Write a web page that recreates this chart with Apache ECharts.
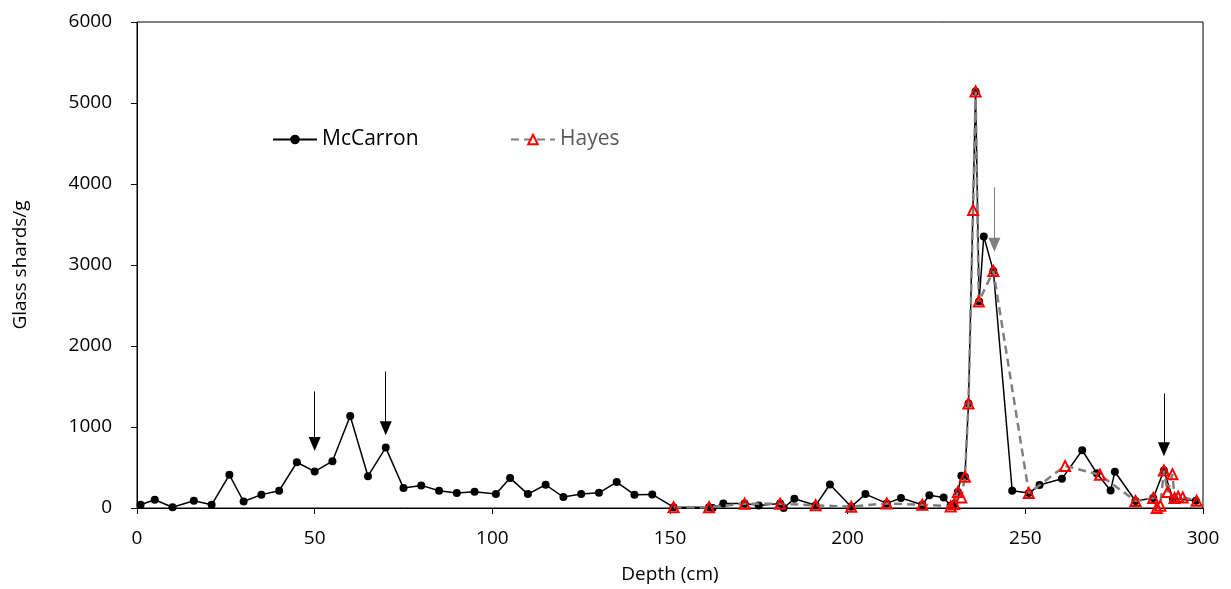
<!DOCTYPE html>
<html>
<head>
<meta charset="utf-8">
<title>Glass shards by depth</title>
<script src="https://cdn.jsdelivr.net/npm/echarts@6/dist/echarts.min.js"></script>
<style>
  html, body { margin: 0; padding: 0; background: #fff; }
  #chart { width: 1231px; height: 589px; }
</style>
</head>
<body>
<div id="chart"></div>
<script>
// McCarron core: depth (cm) and glass shard concentration (shards/g)
const mcDepth = [1, 5, 10, 16, 21, 26, 30, 35, 40, 45, 50, 55, 60, 65, 70, 75, 80, 85, 90, 95,
  101, 105, 110, 115, 120, 125, 130, 135, 140, 145, 151, 161, 162, 165, 171, 175, 181, 182, 185, 191,
  195, 201, 205, 211, 215, 221, 223, 227, 229, 230, 231, 232, 233, 234, 236, 237, 238.3, 241, 246.3, 251,
  254, 260.3, 266, 270.1, 274, 275.2, 281, 286, 289, 291.5, 298];
const mcShards = [40, 102, 10, 90, 40, 410, 80, 165, 213, 565, 450, 578, 1135, 393, 746, 246, 279, 213, 184, 200,
  172, 369, 172, 287, 135, 172, 188, 320, 164, 168, 10, 10, 0, 57, 57, 30, 57, 0, 115, 33,
  290, 16, 172, 57, 123, 41, 158, 131, 29, 49, 197, 397, 385, 1291, 5143, 2549, 3353, 2926, 213, 184,
  283, 360, 713, 430, 217, 447, 86, 123, 463, 118, 90];

// Hayes core
const hayesDepth = [151, 161, 171, 181, 191, 201, 211, 221, 229, 230, 231, 232, 233, 234, 235.3, 236, 236.9,
  241, 251, 261.2, 271, 281, 286, 287, 288, 289, 290, 291.4, 292, 293, 294.3, 298.2];
const hayesShards = [10, 10, 53, 53, 33, 16, 57, 41, 20, 49, 197, 131, 385, 1291, 3680, 5143, 2549,
  2926, 184, 520, 410, 86, 123, 0, 29, 463, 197, 418, 123, 139, 131, 90];

// Marked tephra horizons: depth, arrow top and arrow end (shards/g scale)
const arrowDepth = [50, 70, 241.3, 289];
const arrowTop = [1440, 1685, 3960, 1414];
const arrowEnd = [790, 985, 3250, 725];

const xTicks = { min: 0, max: 300, interval: 50 };
const yTicks = { min: 0, max: 6000, interval: 1000 };

const FONT = '"Open Sans", "Noto Sans", sans-serif';
const zip = (a, b) => a.map((v, i) => [v, b[i]]);

const arrowLines = arrowDepth.map((d, i) => [
  { coord: [d, arrowTop[i]], lineStyle: { color: i === 2 ? '#7f7f7f' : '#000' } },
  { coord: [d, arrowEnd[i]] }
]);

const chart = echarts.init(document.getElementById('chart'), null, { renderer: 'canvas' });
chart.setOption({
  animation: false,
  backgroundColor: '#fff',
  textStyle: { fontFamily: FONT },
  grid: {
    left: 137, right: 28, top: 22, bottom: 79,
    show: true, borderColor: '#000', borderWidth: 1, backgroundColor: 'transparent'
  },
  legend: [
    {
      data: [{ name: 'McCarron', itemStyle: { borderWidth: 0 } }],
      left: 267, top: 124, itemWidth: 44, itemHeight: 12, itemGap: 0,
      textStyle: { fontFamily: FONT, fontSize: 21, color: '#000' }
    },
    {
      data: ['Hayes'], left: 505, top: 124, itemWidth: 44, itemHeight: 12, itemGap: 0,
      textStyle: { fontFamily: FONT, fontSize: 21, color: '#595959' }
    }
  ],
  xAxis: {
    type: 'value', min: xTicks.min, max: xTicks.max, interval: xTicks.interval,
    name: 'Depth (cm)', nameLocation: 'middle', nameGap: 57,
    nameTextStyle: { fontFamily: FONT, fontSize: 19, color: '#000' },
    axisLine: { show: true, onZero: false, lineStyle: { color: '#000', width: 1 } },
    axisTick: { show: true, length: 6, lineStyle: { color: '#000' } },
    axisLabel: { fontFamily: FONT, fontSize: 19, color: '#000', margin: 21 },
    splitLine: { show: false }
  },
  yAxis: {
    type: 'value', min: yTicks.min, max: yTicks.max, interval: yTicks.interval,
    name: 'Glass shards/g', nameLocation: 'middle', nameGap: 107, nameRotate: 90,
    nameTextStyle: { fontFamily: FONT, fontSize: 19, color: '#000' },
    axisLine: { show: true, onZero: false, lineStyle: { color: '#000', width: 1 } },
    axisTick: { show: true, length: 6, lineStyle: { color: '#000' } },
    axisLabel: { fontFamily: FONT, fontSize: 19, color: '#000', margin: 25, formatter: v => String(v) },
    splitLine: { show: false }
  },
  series: [
    {
      name: 'McCarron', type: 'line', data: zip(mcDepth, mcShards),
      symbol: 'circle', symbolSize: 8, showAllSymbol: true,
      lineStyle: { color: '#000', width: 1.5 },
      itemStyle: { color: '#000' },
      z: 2,
      markLine: {
        silent: true, symbol: ['none', 'triangle'], symbolSize: [12, 14],
        label: { show: false },
        lineStyle: { color: '#000', width: 1, type: 'solid' },
        emphasis: { disabled: true },
        data: arrowLines
      }
    },
    {
      name: 'Hayes', type: 'line', data: zip(hayesDepth, hayesShards),
      symbol: 'triangle', symbolSize: 10, showAllSymbol: true,
      lineStyle: { color: '#7f7f7f', width: 2.5, type: [8, 5] },
      itemStyle: { color: 'transparent', borderColor: '#ff0000', borderWidth: 2 },
      z: 3
    }
  ]
});
</script>
</body>
</html>
